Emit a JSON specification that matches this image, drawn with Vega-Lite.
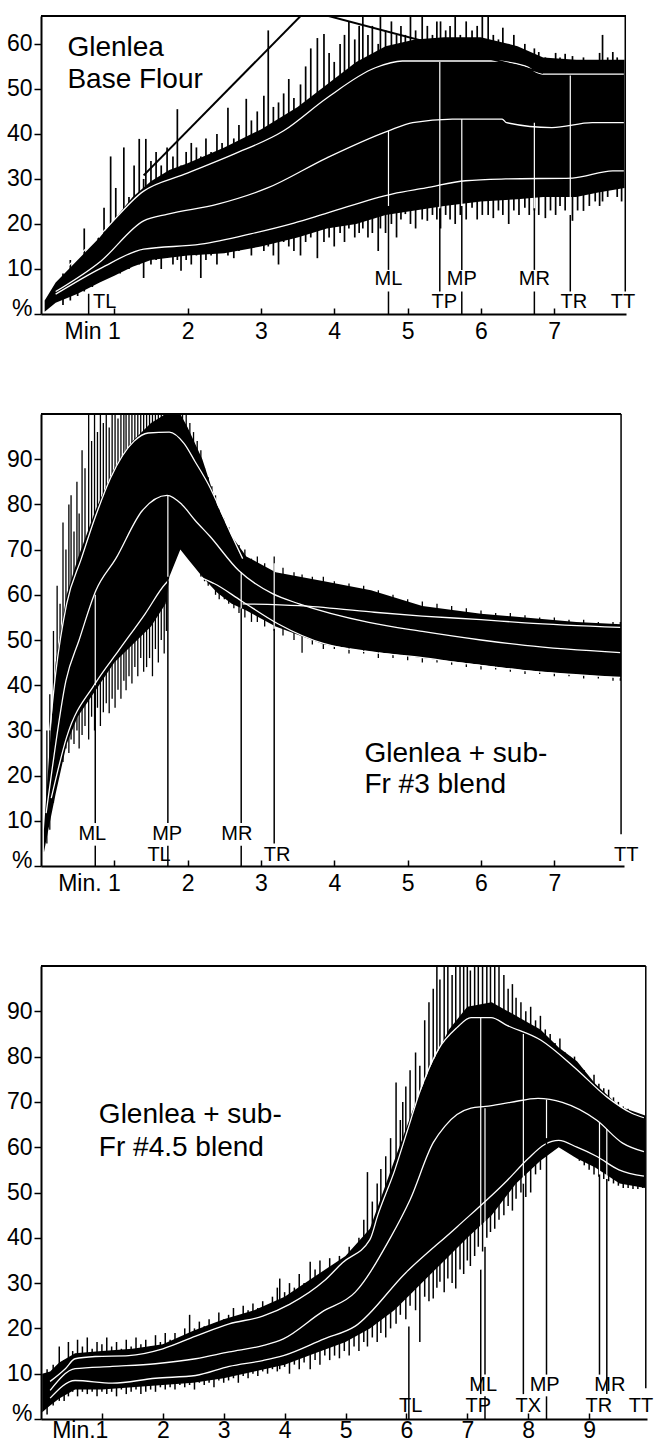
{
"$schema": "https://vega.github.io/schema/vega-lite/v6.json",
"padding": {"left": 6, "top": 15, "right": 5, "bottom": 0},
"spacing": 70,
"config": {
  "view": {"stroke": null},
  "font": "Liberation Sans",
  "axis": {"domainColor": "black", "domainWidth": 2, "tickColor": "black", "tickWidth": 1.5, "labelColor": "black", "labelFont": "Liberation Sans", "labelFontSize": 23, "grid": false, "labelFlush": false, "labelOverlap": false, "format": "d"},
  "axisX": {"tickSize": -6, "labelPadding": 12},
  "axisY": {"tickSize": 7, "labelPadding": 2}
},
"datasets": {
  "p1e": [
    {"t":0.05,"bot":0.5,"top":3},{"t":0.2,"bot":2.5,"top":7},{"t":0.5,"bot":4.5,"top":12},{"t":0.8,"bot":7,"top":17},{"t":1.0,"bot":8.5,"top":21},{"t":1.25,"bot":10.5,"top":26},{"t":1.5,"bot":12,"top":29.5},{"t":1.75,"bot":12.5,"top":32},{"t":2.0,"bot":13,"top":33.5},{"t":2.5,"bot":13.5,"top":37},{"t":3.0,"bot":15,"top":41},{"t":3.5,"bot":17,"top":46},{"t":3.9,"bot":19,"top":51},{"t":4.3,"bot":20,"top":56},{"t":4.7,"bot":22,"top":59.5},{"t":5.1,"bot":23,"top":61},{"t":5.5,"bot":24,"top":61.5},{"t":6.0,"bot":25,"top":61.5},{"t":6.5,"bot":25.5,"top":59.5},{"t":6.85,"bot":26,"top":57},{"t":7.3,"bot":26,"top":56.5},{"t":7.6,"bot":27,"top":56.5},{"t":7.96,"bot":28,"top":56.5}
  ],
  "p1s": [
    {"t":0.3,"a":2,"b":9},{"t":0.4,"a":3,"b":12},{"t":0.5,"a":4,"b":10},{"t":0.59,"a":5,"b":19},{"t":0.7,"a":6,"b":14},{"t":0.78,"a":7,"b":17},{"t":0.86,"a":8,"b":23.6},{"t":0.95,"a":9,"b":35},{"t":1.02,"a":10,"b":28},{"t":1.08,"a":9,"b":22},{"t":1.13,"a":11,"b":37},{"t":1.2,"a":10,"b":26},{"t":1.27,"a":12,"b":33},{"t":1.34,"a":11,"b":38.9},{"t":1.4,"a":8,"b":30},{"t":1.43,"a":12,"b":38.9},{"t":1.5,"a":11,"b":34},{"t":1.57,"a":12,"b":36},{"t":1.64,"a":10,"b":33},{"t":1.72,"a":13,"b":37},{"t":1.8,"a":11,"b":35},{"t":1.86,"a":12,"b":45.5},{"t":1.91,"a":9.6,"b":33},{"t":1.98,"a":12,"b":36},{"t":2.05,"a":11,"b":38},{"t":2.12,"a":13,"b":37},{"t":2.18,"a":8,"b":35},{"t":2.25,"a":12,"b":39},{"t":2.32,"a":13,"b":36},{"t":2.4,"a":11,"b":40},{"t":2.47,"a":14,"b":38},{"t":2.55,"a":13,"b":45.8},{"t":2.63,"a":12.4,"b":39},{"t":2.7,"a":14,"b":42},{"t":2.8,"a":15,"b":47.8},{"t":2.87,"a":13,"b":43},{"t":2.95,"a":15,"b":45},{"t":3.04,"a":14,"b":48.5},{"t":3.1,"a":15,"b":63},{"t":3.17,"a":13,"b":46},{"t":3.24,"a":11,"b":47},{"t":3.31,"a":16,"b":49},{"t":3.38,"a":15,"b":52.2},{"t":3.45,"a":14,"b":48},{"t":3.54,"a":13,"b":51},{"t":3.61,"a":16,"b":55},{"t":3.68,"a":17,"b":59},{"t":3.77,"a":12.4,"b":61.3},{"t":3.86,"a":16,"b":62.2},{"t":3.93,"a":17,"b":58},{"t":4.0,"a":15,"b":56},{"t":4.08,"a":18,"b":60},{"t":4.14,"a":16,"b":62},{"t":4.2,"a":19,"b":65},{"t":4.28,"a":17,"b":61},{"t":4.34,"a":18,"b":64},{"t":4.39,"a":19,"b":66},{"t":4.46,"a":17,"b":62},{"t":4.52,"a":18,"b":64},{"t":4.6,"a":14,"b":60},{"t":4.63,"a":19,"b":66},{"t":4.7,"a":18,"b":63},{"t":4.78,"a":20,"b":65},{"t":4.85,"a":17,"b":62},{"t":4.91,"a":21,"b":64},{"t":4.97,"a":22.2,"b":62},{"t":5.04,"a":20,"b":66},{"t":5.11,"a":19,"b":63},{"t":5.2,"a":21,"b":66},{"t":5.27,"a":20.7,"b":64},{"t":5.34,"a":22,"b":62},{"t":5.4,"a":21,"b":65},{"t":5.45,"a":19,"b":65},{"t":5.52,"a":22,"b":63},{"t":5.58,"a":21,"b":64},{"t":5.65,"a":20,"b":66},{"t":5.72,"a":22,"b":62},{"t":5.8,"a":21,"b":65},{"t":5.88,"a":23.6,"b":63},{"t":5.95,"a":21,"b":64},{"t":6.02,"a":22,"b":66},{"t":6.1,"a":22,"b":66},{"t":6.17,"a":21.3,"b":62},{"t":6.24,"a":23,"b":61},{"t":6.3,"a":22,"b":63.6},{"t":6.38,"a":20,"b":60},{"t":6.45,"a":23,"b":62},{"t":6.52,"a":22,"b":59},{"t":6.6,"a":23.6,"b":60},{"t":6.66,"a":22,"b":58},{"t":6.73,"a":23,"b":59},{"t":6.79,"a":22,"b":58.2},{"t":6.88,"a":21.3,"b":57},{"t":6.95,"a":23,"b":56},{"t":7.02,"a":22,"b":58},{"t":7.08,"a":24,"b":57},{"t":7.15,"a":23,"b":57.8},{"t":7.25,"a":20.7,"b":57.3},{"t":7.32,"a":23,"b":56},{"t":7.4,"a":22.9,"b":57},{"t":7.48,"a":24,"b":56},{"t":7.56,"a":25,"b":54.8},{"t":7.62,"a":24,"b":58},{"t":7.66,"a":25,"b":62},{"t":7.73,"a":26,"b":57},{"t":7.8,"a":28.4,"b":58.2},{"t":7.86,"a":26,"b":57},{"t":7.92,"a":25,"b":56}
  ],
  "p1c": [
    {"c":"up","t":0.2,"v":8},{"c":"up","t":0.82,"v":17.8},{"c":"up","t":1.4,"v":27.3},{"c":"up","t":1.95,"v":31},{"c":"up","t":2.63,"v":35.5},{"c":"up","t":3.31,"v":40.7},{"c":"up","t":3.9,"v":48},{"c":"up","t":4.56,"v":54.7},{"c":"up","t":4.93,"v":56.2},{"c":"up","t":6.16,"v":56.2},{"c":"up","t":6.6,"v":55.1},{"c":"up","t":6.84,"v":53.3},{"c":"up","t":7.95,"v":53.3},
    {"c":"mid","t":0.2,"v":5},{"c":"mid","t":0.82,"v":11.8},{"c":"mid","t":1.4,"v":20.7},{"c":"mid","t":1.73,"v":22.2},{"c":"mid","t":2.41,"v":24.4},{"c":"mid","t":3.09,"v":28},{"c":"mid","t":3.9,"v":34.7},{"c":"mid","t":4.74,"v":40.7},{"c":"mid","t":5.07,"v":42.5},{"c":"mid","t":5.61,"v":43.3},{"c":"mid","t":6.29,"v":43.3},{"c":"mid","t":6.35,"v":42.5},{"c":"mid","t":6.97,"v":41.4},{"c":"mid","t":7.52,"v":42.5},{"c":"mid","t":7.95,"v":42.5},
    {"c":"low","t":0.2,"v":4.4},{"c":"low","t":0.82,"v":10.2},{"c":"low","t":1.4,"v":14.4},{"c":"low","t":2.18,"v":15.5},{"c":"low","t":2.86,"v":17.8},{"c":"low","t":3.45,"v":20.2},{"c":"low","t":3.9,"v":22.4},{"c":"low","t":4.8,"v":26.7},{"c":"low","t":5.25,"v":28},{"c":"low","t":5.79,"v":29.6},{"c":"low","t":6.34,"v":30},{"c":"low","t":7.25,"v":30.2},{"c":"low","t":7.8,"v":31.8},{"c":"low","t":7.95,"v":31.8}
  ],
  "p1g": [
    {"g":"rise","t":1.4,"v":30.8},{"g":"rise","t":3.62,"v":67.5},{"g":"fall","t":3.62,"v":67.5},{"g":"fall","t":6.85,"v":53.6}
  ],
  "p1m": [
    {"t":0.65,"part":"out","v0":0,"v1":4.5},
    {"t":4.74,"part":"out","v0":0,"v1":5},{"t":4.74,"part":"out","v0":9.8,"v1":24},{"t":4.74,"part":"in","v0":24,"v1":40.7},
    {"t":5.44,"part":"out","v0":5,"v1":23.5},{"t":5.44,"part":"in","v0":23.5,"v1":56},
    {"t":5.74,"part":"out","v0":0,"v1":5},{"t":5.74,"part":"out","v0":9.8,"v1":24},{"t":5.74,"part":"in","v0":24,"v1":43.3},
    {"t":6.73,"part":"out","v0":0,"v1":5},{"t":6.73,"part":"out","v0":9.8,"v1":23.5},{"t":6.73,"part":"in","v0":23.5,"v1":42.5},
    {"t":7.22,"part":"out","v0":5,"v1":22},{"t":7.22,"part":"in","v0":22,"v1":53},
    {"t":7.97,"part":"out","v0":5,"v1":66.2}
  ],
  "p1l": [
    {"lbl":"TL","t":0.87,"v":2.7},{"lbl":"ML","t":4.74,"v":7.8},{"lbl":"TP","t":5.5,"v":2.7},{"lbl":"MP","t":5.74,"v":7.8},{"lbl":"MR","t":6.73,"v":7.8},{"lbl":"TR","t":7.27,"v":2.7},{"lbl":"TT","t":7.94,"v":2.7}
  ],
  "p1t": [
    {"txt":"Glenlea","t":0.36,"v":57.3},{"txt":"Base Flour","t":0.36,"v":50.2}
  ],
  "p2e": [
    {"t":0.04,"bot":3,"top":8},{"t":0.1,"bot":8,"top":22},{"t":0.2,"bot":16,"top":45},{"t":0.35,"bot":27,"top":60},{"t":0.5,"bot":33,"top":68},{"t":0.75,"bot":39,"top":79},{"t":1.0,"bot":45,"top":88},{"t":1.25,"bot":49,"top":94},{"t":1.5,"bot":53,"top":98},{"t":1.7,"bot":58,"top":100},{"t":1.75,"bot":64,"top":100},{"t":1.9,"bot":70,"top":100},{"t":2.0,"bot":68,"top":97},{"t":2.2,"bot":64,"top":90},{"t":2.4,"bot":60.5,"top":80},{"t":2.6,"bot":58,"top":73},{"t":2.8,"bot":56.5,"top":68.5},{"t":3.2,"bot":53,"top":65},{"t":3.86,"bot":49,"top":63},{"t":4.5,"bot":47.5,"top":61},{"t":5.2,"bot":46,"top":57.5},{"t":6.0,"bot":44.5,"top":55.8},{"t":6.6,"bot":43.3,"top":55},{"t":7.3,"bot":42.3,"top":54},{"t":7.91,"bot":41.7,"top":53.5}
  ],
  "p2s": [
    {"t":0.08,"a":5,"b":30},{"t":0.12,"a":8,"b":38},{"t":0.17,"a":14,"b":52},{"t":0.22,"a":20,"b":62},{"t":0.26,"a":24,"b":58},{"t":0.3,"a":23,"b":76},{"t":0.34,"a":26,"b":70},{"t":0.38,"a":25,"b":80},{"t":0.41,"a":28,"b":82},{"t":0.45,"a":27,"b":74},{"t":0.49,"a":30,"b":85},{"t":0.52,"a":26,"b":78},{"t":0.56,"a":29,"b":92},{"t":0.6,"a":31,"b":88},{"t":0.65,"a":28,"b":100},{"t":0.69,"a":33,"b":94},{"t":0.73,"a":30,"b":100},{"t":0.77,"a":35,"b":96},{"t":0.81,"a":31,"b":100},{"t":0.85,"a":34,"b":98},{"t":0.89,"a":36,"b":100},{"t":0.93,"a":33.8,"b":97},{"t":0.97,"a":37,"b":100},{"t":1.01,"a":35,"b":100},{"t":1.05,"a":39,"b":99},{"t":1.09,"a":37,"b":100},{"t":1.13,"a":41,"b":100},{"t":1.16,"a":38.9,"b":100},{"t":1.2,"a":42,"b":100},{"t":1.24,"a":40.4,"b":100},{"t":1.28,"a":44,"b":100},{"t":1.32,"a":42,"b":100},{"t":1.36,"a":46,"b":100},{"t":1.4,"a":43,"b":100},{"t":1.44,"a":44,"b":100},{"t":1.48,"a":46,"b":100},{"t":1.52,"a":42,"b":100},{"t":1.56,"a":48,"b":100},{"t":1.6,"a":45,"b":100},{"t":1.64,"a":50,"b":100},{"t":1.68,"a":47,"b":100},{"t":1.71,"a":52,"b":100},{"t":1.78,"a":66,"b":100},{"t":1.83,"a":69,"b":100},{"t":1.88,"a":71,"b":100},{"t":1.93,"a":72,"b":100},{"t":1.98,"a":70,"b":100},{"t":2.03,"a":69,"b":98},{"t":2.08,"a":67,"b":96},{"t":2.13,"a":66,"b":94},{"t":2.18,"a":64,"b":92},{"t":2.23,"a":63,"b":88},{"t":2.28,"a":62,"b":86},{"t":2.33,"a":62,"b":84},{"t":2.38,"a":60,"b":82},{"t":2.43,"a":59,"b":79},{"t":2.5,"a":59,"b":77},{"t":2.56,"a":58,"b":75},{"t":2.63,"a":57,"b":72},{"t":2.7,"a":56,"b":71},{"t":2.78,"a":55,"b":70},{"t":2.87,"a":54,"b":68},{"t":2.95,"a":54,"b":68.5},{"t":3.05,"a":53,"b":67},{"t":3.18,"a":52,"b":68.5},{"t":3.3,"a":51,"b":66},{"t":3.45,"a":50,"b":65},{"t":3.56,"a":47.2,"b":64.5},{"t":3.7,"a":49,"b":64},{"t":3.85,"a":48,"b":64},{"t":4.0,"a":48,"b":63},{"t":4.2,"a":47,"b":62.5},{"t":4.4,"a":47,"b":62},{"t":4.6,"a":46,"b":61},{"t":4.8,"a":46,"b":60},{"t":5.0,"a":45.5,"b":59},{"t":5.2,"a":45,"b":58.5},{"t":5.4,"a":45,"b":58},{"t":5.6,"a":44.5,"b":57.5},{"t":5.8,"a":44,"b":57},{"t":6.0,"a":43.5,"b":56.5},{"t":6.2,"a":43.5,"b":56},{"t":6.4,"a":43,"b":56},{"t":6.6,"a":42.5,"b":55.5},{"t":6.8,"a":42.5,"b":55},{"t":7.0,"a":42,"b":55},{"t":7.2,"a":42,"b":54.5},{"t":7.4,"a":41.5,"b":54.5},{"t":7.6,"a":41.5,"b":54},{"t":7.8,"a":41,"b":54},{"t":7.9,"a":41,"b":54}
  ],
  "p2c": [
    {"c":"up1","t":0.12,"v":30},{"c":"up1","t":0.2,"v":42.6},{"c":"up1","t":0.35,"v":58},{"c":"up1","t":0.55,"v":68},{"c":"up1","t":0.74,"v":77.2},{"c":"up1","t":0.95,"v":85.9},{"c":"up1","t":1.27,"v":94},{"c":"up1","t":1.46,"v":95.8},{"c":"up1","t":1.75,"v":96},{"c":"up1","t":1.95,"v":93.5},{"c":"up1","t":2.1,"v":89.5},{"c":"up1","t":2.28,"v":84.5},{"c":"up1","t":2.59,"v":73.5},{"c":"up1","t":2.75,"v":68},
    {"c":"upA","t":2.75,"v":58},{"c":"upA","t":3.52,"v":57.6},{"c":"upA","t":4.5,"v":56.2},{"c":"upA","t":5.2,"v":55.3},{"c":"upA","t":6.0,"v":54.5},{"c":"upA","t":6.6,"v":53.8},{"c":"upA","t":7.9,"v":52.8},
    {"c":"mid","t":0.07,"v":11.7},{"c":"mid","t":0.15,"v":21.2},{"c":"mid","t":0.34,"v":41},{"c":"mid","t":0.52,"v":50},{"c":"mid","t":0.75,"v":61},{"c":"mid","t":1.02,"v":68},{"c":"mid","t":1.38,"v":78.6},{"c":"mid","t":1.72,"v":82},{"c":"mid","t":1.92,"v":80},{"c":"mid","t":2.1,"v":76.5},{"c":"mid","t":2.3,"v":73},{"c":"mid","t":2.7,"v":65.3},{"c":"mid","t":3.15,"v":60.3},{"c":"mid","t":3.52,"v":58},{"c":"mid","t":4.47,"v":53.9},{"c":"mid","t":5.2,"v":51.9},{"c":"mid","t":6.0,"v":50},{"c":"mid","t":6.6,"v":48.8},{"c":"mid","t":7.9,"v":47.2},
    {"c":"low","t":0.14,"v":15},{"c":"low","t":0.35,"v":28.5},{"c":"low","t":0.74,"v":40.4},{"c":"low","t":1.06,"v":47.7},{"c":"low","t":1.42,"v":55.8},{"c":"low","t":1.7,"v":62.5},{"c":"low","t":1.85,"v":64.5},{"c":"low","t":2.0,"v":64.5},{"c":"low","t":2.36,"v":62.5},{"c":"low","t":2.73,"v":58.7},{"c":"low","t":3.23,"v":53.6},{"c":"low","t":3.86,"v":49.2},{"c":"low","t":5.2,"v":46.1},{"c":"low","t":6.56,"v":43.3},{"c":"low","t":7.9,"v":41.7}
  ],
  "p2m": [
    {"t":0.74,"part":"out","v0":0,"v1":4.5},{"t":0.74,"part":"out","v0":9.5,"v1":40},{"t":0.74,"part":"in","v0":40,"v1":60},
    {"t":1.73,"part":"out","v0":0,"v1":4.5},{"t":1.73,"part":"out","v0":9.5,"v1":64},{"t":1.73,"part":"in","v0":64,"v1":82},
    {"t":2.73,"part":"out","v0":0,"v1":4.5},{"t":2.73,"part":"out","v0":9.5,"v1":57},{"t":2.73,"part":"in","v0":57,"v1":65},
    {"t":3.18,"part":"out","v0":5,"v1":52.5},{"t":3.18,"part":"in","v0":52.5,"v1":67},
    {"t":7.91,"part":"out","v0":7,"v1":100}
  ],
  "p2l": [
    {"lbl":"ML","t":0.7,"v":7.1},{"lbl":"MP","t":1.72,"v":7.1},{"lbl":"TL","t":1.61,"v":2.4},{"lbl":"MR","t":2.67,"v":7.1},{"lbl":"TR","t":3.22,"v":2.4},{"lbl":"TT","t":7.98,"v":2.4}
  ],
  "p2t": [
    {"txt":"Glenlea + sub-","t":4.41,"v":23},{"txt":"Fr #3 blend","t":4.41,"v":16.1}
  ],
  "p3e": [
    {"t":0.02,"bot":1.5,"top":10},{"t":0.15,"bot":3,"top":10.5},{"t":0.3,"bot":4.5,"top":12.5},{"t":0.56,"bot":6.5,"top":14.5},{"t":1.0,"bot":6.5,"top":15},{"t":1.5,"bot":7,"top":15.5},{"t":2.0,"bot":7.5,"top":16.5},{"t":2.5,"bot":8,"top":19.5},{"t":3.0,"bot":9,"top":22},{"t":3.5,"bot":10.5,"top":24},{"t":4.0,"bot":12,"top":27},{"t":4.5,"bot":14.5,"top":31.5},{"t":5.0,"bot":17,"top":36},{"t":5.4,"bot":20,"top":42},{"t":5.8,"bot":24,"top":57},{"t":6.1,"bot":28,"top":68},{"t":6.4,"bot":32,"top":78},{"t":6.7,"bot":36,"top":86},{"t":7.0,"bot":40,"top":91},{"t":7.4,"bot":45,"top":92},{"t":7.8,"bot":52,"top":89},{"t":8.2,"bot":57,"top":86},{"t":8.5,"bot":60,"top":82},{"t":8.8,"bot":57.5,"top":79},{"t":9.1,"bot":55.5,"top":74},{"t":9.5,"bot":52,"top":69},{"t":9.92,"bot":51,"top":67}
  ],
  "p3s": [
    {"t":0.1,"a":1,"b":11},{"t":0.2,"a":3,"b":12},{"t":0.3,"a":4,"b":16},{"t":0.38,"a":4,"b":13},{"t":0.45,"a":5,"b":17},{"t":0.52,"a":6,"b":15},{"t":0.6,"a":5,"b":17.5},{"t":0.68,"a":6,"b":16},{"t":0.76,"a":5.5,"b":18},{"t":0.84,"a":6,"b":15.5},{"t":0.92,"a":5,"b":17},{"t":1.0,"a":6,"b":16.5},{"t":1.08,"a":5.5,"b":18},{"t":1.16,"a":6,"b":16},{"t":1.24,"a":5,"b":17},{"t":1.32,"a":6.5,"b":15.5},{"t":1.4,"a":5.5,"b":17.5},{"t":1.48,"a":6,"b":16},{"t":1.56,"a":6.5,"b":18},{"t":1.64,"a":5.5,"b":16.5},{"t":1.72,"a":6,"b":17.5},{"t":1.8,"a":6.5,"b":16},{"t":1.88,"a":6,"b":18.5},{"t":1.96,"a":7,"b":17},{"t":2.04,"a":6.5,"b":19},{"t":2.12,"a":7,"b":17.5},{"t":2.2,"a":6.5,"b":19},{"t":2.28,"a":7.5,"b":18},{"t":2.36,"a":7,"b":20},{"t":2.44,"a":7.5,"b":23},{"t":2.52,"a":6.5,"b":20},{"t":2.6,"a":8,"b":21.5},{"t":2.68,"a":7.5,"b":20.5},{"t":2.76,"a":8,"b":22},{"t":2.84,"a":7,"b":21},{"t":2.92,"a":8.5,"b":23.5},{"t":3.0,"a":8,"b":22},{"t":3.08,"a":8.5,"b":23},{"t":3.16,"a":9,"b":24.5},{"t":3.24,"a":8,"b":22.5},{"t":3.32,"a":9.5,"b":25},{"t":3.4,"a":9,"b":24},{"t":3.48,"a":10,"b":25.5},{"t":3.56,"a":9.5,"b":24.5},{"t":3.64,"a":10.5,"b":26},{"t":3.72,"a":10,"b":25},{"t":3.8,"a":11,"b":27},{"t":3.88,"a":10.5,"b":29},{"t":3.92,"a":11,"b":31},{"t":4.0,"a":11.5,"b":28},{"t":4.08,"a":10,"b":30},{"t":4.16,"a":12,"b":29},{"t":4.24,"a":11,"b":32},{"t":4.32,"a":12.5,"b":30},{"t":4.42,"a":11,"b":34.7},{"t":4.5,"a":13,"b":33},{"t":4.58,"a":12,"b":35},{"t":4.66,"a":14,"b":32},{"t":4.74,"a":13,"b":35.5},{"t":4.82,"a":14,"b":33},{"t":4.9,"a":13.4,"b":36},{"t":4.98,"a":15,"b":34},{"t":5.06,"a":14,"b":38},{"t":5.14,"a":16,"b":36},{"t":5.22,"a":15,"b":40},{"t":5.3,"a":17,"b":44},{"t":5.36,"a":16,"b":54.5},{"t":5.44,"a":18,"b":48},{"t":5.52,"a":17,"b":52},{"t":5.58,"a":19,"b":55.2},{"t":5.66,"a":18,"b":58},{"t":5.74,"a":20,"b":62},{"t":5.83,"a":21,"b":74.3},{"t":5.9,"a":23,"b":66},{"t":5.94,"a":26.6,"b":70},{"t":5.99,"a":22,"b":73.4},{"t":6.06,"a":25,"b":77},{"t":6.15,"a":24,"b":80.9},{"t":6.22,"a":17,"b":78},{"t":6.3,"a":27,"b":88},{"t":6.37,"a":26,"b":92},{"t":6.44,"a":26.6,"b":95},{"t":6.5,"a":29,"b":100},{"t":6.55,"a":30.3,"b":97},{"t":6.62,"a":28,"b":100},{"t":6.68,"a":31,"b":100},{"t":6.75,"a":30,"b":98},{"t":6.81,"a":28.8,"b":100},{"t":6.88,"a":33,"b":100},{"t":6.94,"a":32,"b":100},{"t":7.0,"a":35,"b":100},{"t":7.05,"a":33.8,"b":99},{"t":7.12,"a":36,"b":100},{"t":7.18,"a":38,"b":100},{"t":7.25,"a":37,"b":100},{"t":7.32,"a":40,"b":100},{"t":7.38,"a":41.3,"b":100},{"t":7.45,"a":42,"b":100},{"t":7.52,"a":44,"b":100},{"t":7.6,"a":45,"b":98},{"t":7.67,"a":47,"b":95},{"t":7.74,"a":46,"b":96},{"t":7.8,"a":48.6,"b":93},{"t":7.88,"a":50,"b":92},{"t":7.96,"a":49,"b":90},{"t":8.04,"a":50,"b":91},{"t":8.12,"a":54,"b":88},{"t":8.2,"a":55,"b":89},{"t":8.28,"a":58,"b":86},{"t":8.36,"a":60,"b":85},{"t":8.44,"a":61,"b":83},{"t":8.52,"a":62,"b":84},{"t":8.6,"a":60,"b":81},{"t":8.68,"a":59,"b":80},{"t":8.76,"a":58,"b":80},{"t":8.84,"a":57,"b":78},{"t":8.92,"a":56,"b":77},{"t":9.0,"a":55,"b":75},{"t":9.08,"a":54,"b":76},{"t":9.16,"a":53.5,"b":74},{"t":9.24,"a":53,"b":73},{"t":9.32,"a":52.5,"b":72.7},{"t":9.4,"a":52,"b":71},{"t":9.48,"a":51.5,"b":70},{"t":9.56,"a":51,"b":69},{"t":9.64,"a":51,"b":68.5},{"t":9.72,"a":50.8,"b":67},{"t":9.8,"a":50.8,"b":66},{"t":9.88,"a":51,"b":66.5}
  ],
  "p3c": [
    {"c":"up","t":0.15,"v":8.3},{"c":"up","t":0.4,"v":11.1},{"c":"up","t":0.56,"v":13.3},{"c":"up","t":0.89,"v":13.8},{"c":"up","t":1.44,"v":14},{"c":"up","t":2.0,"v":15.5},{"c":"up","t":2.54,"v":18.3},{"c":"up","t":3.09,"v":21},{"c":"up","t":3.64,"v":22.7},{"c":"up","t":4.08,"v":25.3},{"c":"up","t":4.65,"v":30.5},{"c":"up","t":4.95,"v":34.5},{"c":"up","t":5.4,"v":39.6},{"c":"up","t":5.53,"v":45},{"c":"up","t":5.81,"v":55},{"c":"up","t":6.0,"v":63},{"c":"up","t":6.24,"v":73},{"c":"up","t":6.52,"v":81.5},{"c":"up","t":6.83,"v":86.4},{"c":"up","t":7.06,"v":88.6},{"c":"up","t":7.39,"v":88.6},{"c":"up","t":7.65,"v":86.9},{"c":"up","t":8.21,"v":83.6},{"c":"up","t":8.76,"v":77.6},{"c":"up","t":9.3,"v":71},{"c":"up","t":9.7,"v":67.5},{"c":"up","t":9.9,"v":66.5},
    {"c":"mid","t":0.15,"v":6.3},{"c":"mid","t":0.56,"v":11.1},{"c":"mid","t":1.17,"v":11.6},{"c":"mid","t":1.88,"v":12.2},{"c":"mid","t":2.54,"v":13.3},{"c":"mid","t":3.09,"v":14.8},{"c":"mid","t":3.64,"v":16.2},{"c":"mid","t":3.98,"v":17.7},{"c":"mid","t":4.61,"v":23.6},{"c":"mid","t":5.16,"v":28},{"c":"mid","t":5.72,"v":39.6},{"c":"mid","t":6.06,"v":48.4},{"c":"mid","t":6.44,"v":61},{"c":"mid","t":6.63,"v":64.6},{"c":"mid","t":6.83,"v":67.2},{"c":"mid","t":7.06,"v":68.6},{"c":"mid","t":7.3,"v":69},{"c":"mid","t":7.71,"v":69.9},{"c":"mid","t":8.16,"v":70.8},{"c":"mid","t":8.56,"v":69.9},{"c":"mid","t":9.12,"v":66},{"c":"mid","t":9.55,"v":60.9},{"c":"mid","t":9.9,"v":59},
    {"c":"low","t":0.15,"v":4.6},{"c":"low","t":0.56,"v":8.5},{"c":"low","t":1.17,"v":7.9},{"c":"low","t":1.88,"v":9},{"c":"low","t":2.54,"v":9.6},{"c":"low","t":3.09,"v":11.6},{"c":"low","t":3.64,"v":12.9},{"c":"low","t":3.98,"v":14},{"c":"low","t":4.65,"v":17.7},{"c":"low","t":5.16,"v":20.5},{"c":"low","t":5.99,"v":32.3},{"c":"low","t":6.83,"v":42.4},{"c":"low","t":7.65,"v":52.6},{"c":"low","t":8.0,"v":57.5},{"c":"low","t":8.27,"v":60.6},{"c":"low","t":8.5,"v":61.5},{"c":"low","t":8.8,"v":60},{"c":"low","t":9.12,"v":58},{"c":"low","t":9.49,"v":55},{"c":"low","t":9.9,"v":53.6}
  ],
  "p3m": [
    {"t":6.04,"part":"out","v0":0,"v1":20.4},
    {"t":7.22,"part":"out","v0":5.5,"v1":33},{"t":7.22,"part":"in","v0":33,"v1":88.6},
    {"t":7.29,"part":"out","v0":0,"v1":5},{"t":7.29,"part":"out","v0":9.8,"v1":38},{"t":7.29,"part":"in","v0":38,"v1":68.6},
    {"t":7.92,"part":"out","v0":5.5,"v1":52},{"t":7.92,"part":"in","v0":52,"v1":85},
    {"t":8.3,"part":"out","v0":0,"v1":5},{"t":8.3,"part":"out","v0":9.8,"v1":62},{"t":8.3,"part":"in","v0":62,"v1":70.5},
    {"t":9.17,"part":"out","v0":9.8,"v1":54},{"t":9.17,"part":"in","v0":54,"v1":65.5},
    {"t":9.29,"part":"out","v0":5.5,"v1":53},{"t":9.29,"part":"in","v0":53,"v1":64},
    {"t":9.93,"part":"out","v0":6.8,"v1":100}
  ],
  "p3l": [
    {"lbl":"TL","t":6.07,"v":2.9},{"lbl":"ML","t":7.26,"v":7.5},{"lbl":"TP","t":7.18,"v":2.9},{"lbl":"TX","t":8.0,"v":2.9},{"lbl":"MP","t":8.27,"v":7.5},{"lbl":"MR","t":9.34,"v":7.5},{"lbl":"TR","t":9.16,"v":2.9},{"lbl":"TT","t":9.85,"v":2.9}
  ],
  "p3t": [
    {"txt":"Glenlea + sub-","t":0.95,"v":65.3},{"txt":"Fr #4.5 blend","t":0.95,"v":58}
  ]
},
"vconcat": [
  {
    "width": 585, "height": 298,
    "layer": [
      {"data": {"name": "p1e"}, "mark": {"type": "area", "color": "black", "clip": true},
       "encoding": {
         "x": {"field": "t", "type": "quantitative", "scale": {"domain": [0, 7.98], "nice": false, "zero": false},
               "axis": {"title": null, "format": "d", "values": [1,2,3,4,5,6,7], "labelExpr": "datum.value == 1 ? 'Min 1' : datum.label",
                        "labelAlign": {"condition": {"test": "datum.value == 1", "value": "right"}, "value": "center"},
                        "labelOffset": {"condition": {"test": "datum.value == 1", "value": 6}, "value": 0}}},
         "y": {"field": "bot", "type": "quantitative", "scale": {"domain": [0, 66.2], "nice": false, "zero": false},
               "axis": {"title": null, "format": "d", "values": [0,10,20,30,40,50,60], "labelExpr": "datum.value == 0 ? '%' : datum.label",
                        "labelOffset": {"condition": {"test": "datum.value == 0", "value": -6}, "value": 0}}},
         "y2": {"field": "top"}}},
      {"data": {"name": "p1s"}, "mark": {"type": "rule", "color": "black", "strokeWidth": 1.7, "clip": true},
       "encoding": {"x": {"field": "t", "type": "quantitative", "axis": {"title": null}}, "y": {"field": "a", "type": "quantitative", "axis": {"title": null}}, "y2": {"field": "b"}}},
      {"data": {"name": "p1c"}, "mark": {"type": "line", "color": "white", "strokeWidth": 1.3, "interpolate": "monotone", "clip": true},
       "encoding": {"x": {"field": "t", "type": "quantitative", "axis": {"title": null}}, "y": {"field": "v", "type": "quantitative", "axis": {"title": null}}, "detail": {"field": "c"}}},
      {"data": {"name": "p1g"}, "mark": {"type": "line", "color": "black", "strokeWidth": 2, "clip": true},
       "encoding": {"x": {"field": "t", "type": "quantitative", "axis": {"title": null}}, "y": {"field": "v", "type": "quantitative", "axis": {"title": null}}, "detail": {"field": "g"}}},
      {"data": {"name": "p1m"}, "transform": [{"filter": "datum.part == 'out'"}], "mark": {"type": "rule", "color": "black", "strokeWidth": 1.5},
       "encoding": {"x": {"field": "t", "type": "quantitative", "axis": {"title": null}}, "y": {"field": "v0", "type": "quantitative", "axis": {"title": null}}, "y2": {"field": "v1"}}},
      {"data": {"name": "p1m"}, "transform": [{"filter": "datum.part == 'in'"}], "mark": {"type": "rule", "color": "white", "strokeWidth": 1.2},
       "encoding": {"x": {"field": "t", "type": "quantitative", "axis": {"title": null}}, "y": {"field": "v0", "type": "quantitative", "axis": {"title": null}}, "y2": {"field": "v1"}}},
      {"data": {"values": [{}]}, "mark": {"type": "rule", "color": "black", "strokeWidth": 2},
       "encoding": {"x": {"datum": 0, "type": "quantitative", "axis": {"title": null}}, "x2": {"datum": 7.98}, "y": {"datum": 66.2, "type": "quantitative", "axis": {"title": null}}}},
      {"data": {"name": "p1l"}, "mark": {"type": "text", "fontSize": 20, "align": "center", "baseline": "middle", "color": "black"},
       "encoding": {"x": {"field": "t", "type": "quantitative", "axis": {"title": null}}, "y": {"field": "v", "type": "quantitative", "axis": {"title": null}}, "text": {"field": "lbl"}}},
      {"data": {"name": "p1t"}, "mark": {"type": "text", "fontSize": 28, "align": "left", "baseline": "alphabetic", "color": "black"},
       "encoding": {"x": {"field": "t", "type": "quantitative", "axis": {"title": null}}, "y": {"field": "v", "type": "quantitative", "axis": {"title": null}}, "text": {"field": "txt"}}}
    ]
  },
  {
    "width": 583, "height": 452,
    "layer": [
      {"data": {"name": "p2e"}, "mark": {"type": "area", "color": "black", "clip": true},
       "encoding": {
         "x": {"field": "t", "type": "quantitative", "scale": {"domain": [0, 7.95], "nice": false, "zero": false},
               "axis": {"title": null, "format": "d", "values": [1,2,3,4,5,6,7], "labelExpr": "datum.value == 1 ? 'Min. 1' : datum.label",
                        "labelAlign": {"condition": {"test": "datum.value == 1", "value": "right"}, "value": "center"},
                        "labelOffset": {"condition": {"test": "datum.value == 1", "value": 6}, "value": 0}}},
         "y": {"field": "bot", "type": "quantitative", "scale": {"domain": [0, 100], "nice": false, "zero": false},
               "axis": {"title": null, "format": "d", "values": [0,10,20,30,40,50,60,70,80,90], "labelExpr": "datum.value == 0 ? '%' : datum.label",
                        "labelOffset": {"condition": {"test": "datum.value == 0", "value": -6}, "value": 0}}},
         "y2": {"field": "top"}}},
      {"data": {"name": "p2s"}, "mark": {"type": "rule", "color": "black", "strokeWidth": 1.3, "clip": true},
       "encoding": {"x": {"field": "t", "type": "quantitative", "axis": {"title": null}}, "y": {"field": "a", "type": "quantitative", "axis": {"title": null}}, "y2": {"field": "b"}}},
      {"data": {"name": "p2c"}, "mark": {"type": "line", "color": "white", "strokeWidth": 1.3, "interpolate": "monotone", "clip": true},
       "encoding": {"x": {"field": "t", "type": "quantitative", "axis": {"title": null}}, "y": {"field": "v", "type": "quantitative", "axis": {"title": null}}, "detail": {"field": "c"}}},
      {"data": {"name": "p2m"}, "transform": [{"filter": "datum.part == 'out'"}], "mark": {"type": "rule", "color": "black", "strokeWidth": 1.5},
       "encoding": {"x": {"field": "t", "type": "quantitative", "axis": {"title": null}}, "y": {"field": "v0", "type": "quantitative", "axis": {"title": null}}, "y2": {"field": "v1"}}},
      {"data": {"name": "p2m"}, "transform": [{"filter": "datum.part == 'in'"}], "mark": {"type": "rule", "color": "white", "strokeWidth": 1.2},
       "encoding": {"x": {"field": "t", "type": "quantitative", "axis": {"title": null}}, "y": {"field": "v0", "type": "quantitative", "axis": {"title": null}}, "y2": {"field": "v1"}}},
      {"data": {"values": [{}]}, "mark": {"type": "rule", "color": "black", "strokeWidth": 2},
       "encoding": {"x": {"datum": 0, "type": "quantitative", "axis": {"title": null}}, "x2": {"datum": 7.91}, "y": {"datum": 100, "type": "quantitative", "axis": {"title": null}}}},
      {"data": {"name": "p2l"}, "mark": {"type": "text", "fontSize": 20, "align": "center", "baseline": "middle", "color": "black"},
       "encoding": {"x": {"field": "t", "type": "quantitative", "axis": {"title": null}}, "y": {"field": "v", "type": "quantitative", "axis": {"title": null}}, "text": {"field": "lbl"}}},
      {"data": {"name": "p2t"}, "mark": {"type": "text", "fontSize": 28, "align": "left", "baseline": "alphabetic", "color": "black"},
       "encoding": {"x": {"field": "t", "type": "quantitative", "axis": {"title": null}}, "y": {"field": "v", "type": "quantitative", "axis": {"title": null}}, "text": {"field": "txt"}}}
    ]
  },
  {
    "width": 606, "height": 453,
    "layer": [
      {"data": {"name": "p3e"}, "mark": {"type": "area", "color": "black", "clip": true},
       "encoding": {
         "x": {"field": "t", "type": "quantitative", "scale": {"domain": [0, 9.95], "nice": false, "zero": false},
               "axis": {"title": null, "format": "d", "values": [1,2,3,4,5,6,7,8,9], "labelExpr": "datum.value == 1 ? 'Min.1' : datum.label", "labelPadding": 6,
                        "labelAlign": {"condition": {"test": "datum.value == 1", "value": "right"}, "value": "center"},
                        "labelOffset": {"condition": {"test": "datum.value == 1", "value": 6}, "value": 0}}},
         "y": {"field": "bot", "type": "quantitative", "scale": {"domain": [0, 100], "nice": false, "zero": false},
               "axis": {"title": null, "format": "d", "values": [0,10,20,30,40,50,60,70,80,90], "labelExpr": "datum.value == 0 ? '%' : datum.label",
                        "labelOffset": {"condition": {"test": "datum.value == 0", "value": -6}, "value": 0}}},
         "y2": {"field": "top"}}},
      {"data": {"name": "p3s"}, "mark": {"type": "rule", "color": "black", "strokeWidth": 1.5, "clip": true},
       "encoding": {"x": {"field": "t", "type": "quantitative", "axis": {"title": null}}, "y": {"field": "a", "type": "quantitative", "axis": {"title": null}}, "y2": {"field": "b"}}},
      {"data": {"name": "p3c"}, "mark": {"type": "line", "color": "white", "strokeWidth": 1.3, "interpolate": "monotone", "clip": true},
       "encoding": {"x": {"field": "t", "type": "quantitative", "axis": {"title": null}}, "y": {"field": "v", "type": "quantitative", "axis": {"title": null}}, "detail": {"field": "c"}}},
      {"data": {"name": "p3m"}, "transform": [{"filter": "datum.part == 'out'"}], "mark": {"type": "rule", "color": "black", "strokeWidth": 1.5},
       "encoding": {"x": {"field": "t", "type": "quantitative", "axis": {"title": null}}, "y": {"field": "v0", "type": "quantitative", "axis": {"title": null}}, "y2": {"field": "v1"}}},
      {"data": {"name": "p3m"}, "transform": [{"filter": "datum.part == 'in'"}], "mark": {"type": "rule", "color": "white", "strokeWidth": 1.2},
       "encoding": {"x": {"field": "t", "type": "quantitative", "axis": {"title": null}}, "y": {"field": "v0", "type": "quantitative", "axis": {"title": null}}, "y2": {"field": "v1"}}},
      {"data": {"values": [{}]}, "mark": {"type": "rule", "color": "black", "strokeWidth": 2},
       "encoding": {"x": {"datum": 0, "type": "quantitative", "axis": {"title": null}}, "x2": {"datum": 9.93}, "y": {"datum": 100, "type": "quantitative", "axis": {"title": null}}}},
      {"data": {"name": "p3l"}, "mark": {"type": "text", "fontSize": 20, "align": "center", "baseline": "middle", "color": "black"},
       "encoding": {"x": {"field": "t", "type": "quantitative", "axis": {"title": null}}, "y": {"field": "v", "type": "quantitative", "axis": {"title": null}}, "text": {"field": "lbl"}}},
      {"data": {"name": "p3t"}, "mark": {"type": "text", "fontSize": 28, "align": "left", "baseline": "alphabetic", "color": "black"},
       "encoding": {"x": {"field": "t", "type": "quantitative", "axis": {"title": null}}, "y": {"field": "v", "type": "quantitative", "axis": {"title": null}}, "text": {"field": "txt"}}}
    ]
  }
]
}
